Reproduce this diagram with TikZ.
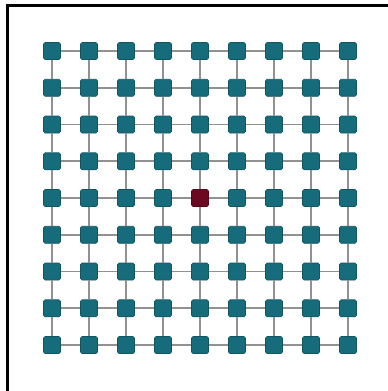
\documentclass[tikz,border=0pt]{standalone}
\definecolor{teal1}{RGB}{22,108,122}
\definecolor{redd}{RGB}{108,8,32}
\definecolor{linkgray}{RGB}{145,145,145}
\tikzset{
  cell/.style={draw=teal1!80!black, line width=0.6pt, fill=teal1, minimum size=17pt, inner sep=0pt, rounded corners=1.5pt},
  hub/.style={cell, fill=redd, draw=redd!80!black},
  link/.style={draw=linkgray, line width=1.7pt},
  frame/.style={draw=black, line width=3pt}
}
\begin{document}
\begin{tikzpicture}[x=1pt,y=-1pt]
\useasboundingbox (0,0) rectangle (388,391);
\fill[white] (0,0) rectangle (388,391);
\coordinate (ftl) at (7.5,5.5);
\coordinate (ftr) at (388,5.5);
\coordinate (fbl) at (7.5,391);
\draw[frame] (ftr) -- (ftl) -- (fbl);
\foreach \i in {0,...,8}{
  \foreach \j in {0,...,8}{
    \pgfmathsetmacro{\xx}{52+37*\i}
    \pgfmathsetmacro{\yy}{51+36.75*\j}
    \ifnum\i=4 \ifnum\j=4
      \node[hub] (n-\i-\j) at (\xx,\yy) {};
    \else
      \node[cell] (n-\i-\j) at (\xx,\yy) {};
    \fi\else
      \node[cell] (n-\i-\j) at (\xx,\yy) {};
    \fi
  }
}
\foreach \i [evaluate=\i as \k using int(\i+1)] in {0,...,7}{
  \foreach \j in {0,...,8}{
    \draw[link] (n-\i-\j) -- (n-\k-\j);
    \draw[link] (n-\j-\i) -- (n-\j-\k);
  }
}
\end{tikzpicture}
\end{document}
